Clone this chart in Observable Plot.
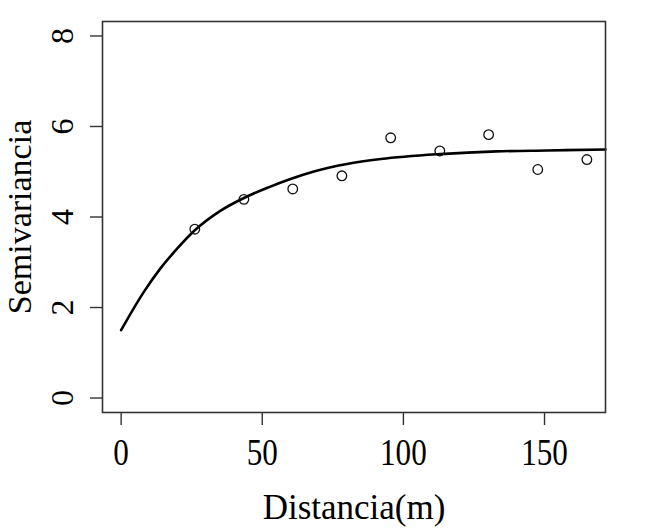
<!DOCTYPE html>
<html>
<head>
<meta charset="utf-8">
<script src="https://cdn.jsdelivr.net/npm/d3@7"></script>
<script src="https://cdn.jsdelivr.net/npm/@observablehq/plot@0.6"></script>
<style>
  html, body { margin: 0; padding: 0; background: #fff; }
</style>
</head>
<body>
<div id="chart"></div>
<script>
// Empirical semivariogram (points)
const distances = [26.1, 43.5, 60.8, 78.2, 95.5, 112.9, 130.2, 147.6, 165.0];
const gammas    = [3.73, 4.39, 4.62, 4.91, 5.75, 5.46, 5.82, 5.05, 5.27];

// Fitted model curve
const curveH = [0, 8, 14, 20, 26, 35, 43.5, 52, 60, 68, 80, 92, 113, 133, 151, 171.6];
const curveG = [1.50, 2.34, 2.87, 3.31, 3.70, 4.13, 4.42, 4.65, 4.84, 5.00, 5.17, 5.28, 5.39, 5.45, 5.47, 5.49];

// Axes
const xTicks = [0, 50, 100, 150];
const yTicks = [0, 2, 4, 6, 8];
const xTitle = "Distancia(m)";
const yTitle = "Semivariancia";

const points = distances.map((d, i) => ({h: d, g: gammas[i]}));
const curve = curveH.map((h, i) => ({h, g: curveG[i]}));

const chart = Plot.plot({
  width: 658,
  height: 532,
  marginLeft: 102,
  marginRight: 53,
  marginTop: 21,
  marginBottom: 120,
  style: {fontFamily: "'Liberation Serif', 'Times New Roman', serif", fontSize: "32px", background: "#fff", color: "#000"},
  x: {domain: [-6.6, 171.6]},
  y: {domain: [-0.32, 8.32]},
  marks: [
    Plot.axisX({ticks: xTicks, tickSize: 13, tickPadding: 13, label: null, stroke: "#333", strokeWidth: 1.4, fontSize: 38}),
    Plot.axisY({ticks: yTicks, tickSize: 12, tickPadding: 18, tickRotate: -90, label: null, stroke: "#333", strokeWidth: 1.4}),
    Plot.line(curve, {x: "h", y: "g", curve: "monotone-x", stroke: "#000", strokeWidth: 2.6}),
    Plot.dot(points, {x: "h", y: "g", r: 4.8, stroke: "#111", strokeWidth: 1.3, fill: "none"}),
    Plot.frame({stroke: "#333", strokeWidth: 1.6}),
    Plot.text([xTitle], {frameAnchor: "bottom", textAnchor: "middle", lineAnchor: "bottom", dy: 106, fontSize: 35, fill: "#000"}),
    Plot.text([yTitle], {frameAnchor: "left", textAnchor: "middle", lineAnchor: "bottom", rotate: -90, dx: -72, fontSize: 34, fill: "#000"})
  ]
});

// Narrow the x tick digits a little, as in the reference
chart.querySelectorAll('g[aria-label="x-axis tick label"] text').forEach((el) => {
  el.setAttribute("font-size", "38");
  const t = el.getAttribute("transform") || "";
  const x = +el.getAttribute("x") || 0;
  el.setAttribute("transform", `${t} translate(${x},0) scale(0.82,1) translate(${-x},0)`);
});

document.getElementById("chart").appendChild(chart);
</script>
</body>
</html>
